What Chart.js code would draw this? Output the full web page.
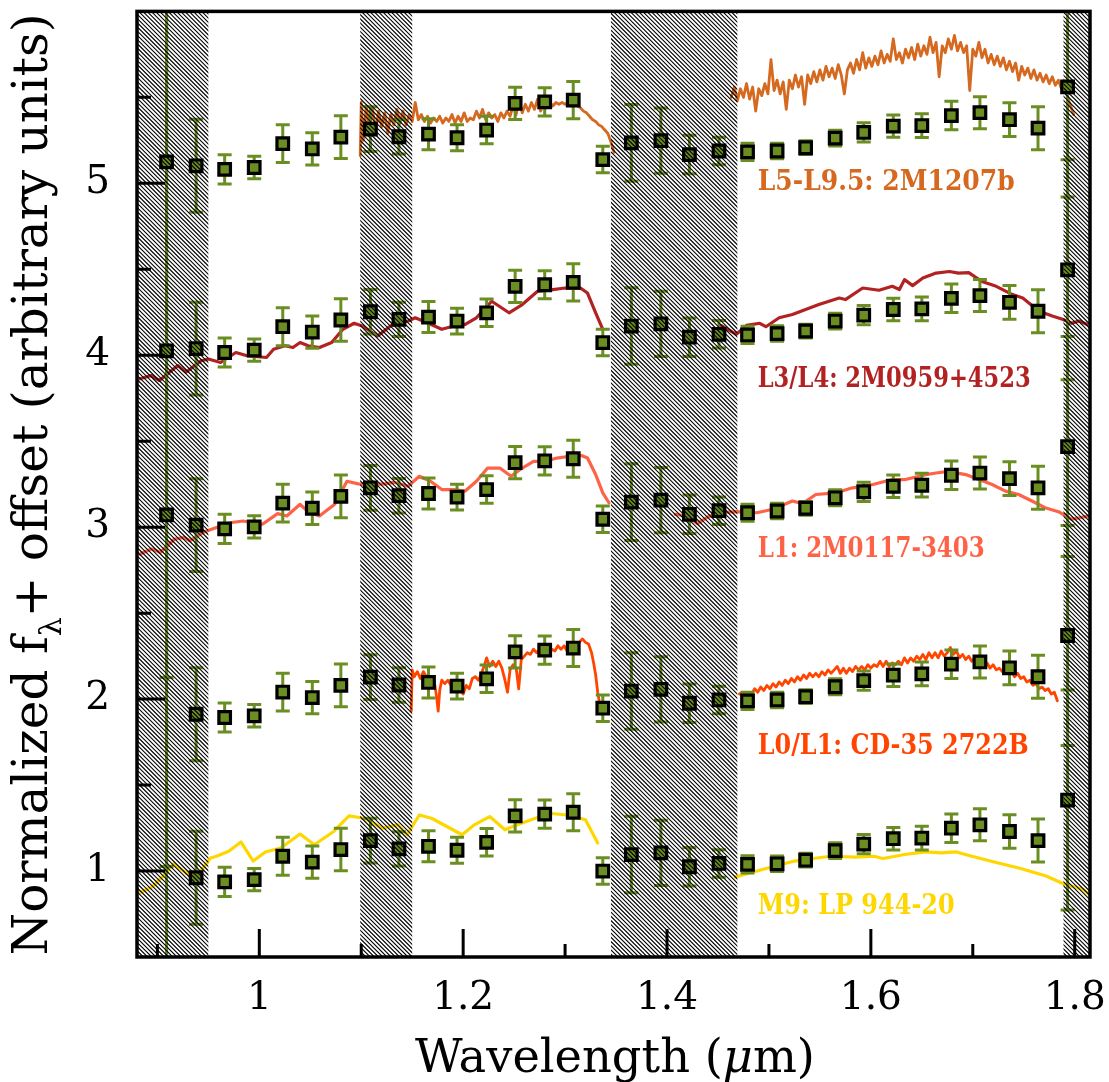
<!DOCTYPE html>
<html><head><meta charset="utf-8">
<script src="https://cdn.jsdelivr.net/npm/chart.js@4.4.1/dist/chart.umd.min.js"></script>
<style>html,body{margin:0;padding:0;background:#fff;}canvas{display:block;}</style>
</head><body>
<canvas id="c" width="1109" height="1082"></canvas>
<script>
// ---------------- DATA ----------------
const objectNames = ['L5-L9.5: 2M1207b', 'L3/L4: 2M0959+4523', 'L1: 2M0117-3403', 'L0/L1: CD-35 2722B', 'M9: LP 944-20'];

// photometric channels (micron)
const photWave = [0.909,0.938,0.966,0.995,1.023,1.052,1.080,1.109,1.137,1.166,1.194,1.223,1.251,1.280,1.308,1.337,1.365,1.394,1.422,1.451,1.479,1.508,1.536,1.565,1.593,1.622,1.650,1.679,1.707,1.736,1.764,1.793];
const photErr = [3.0,0.27,0.085,0.065,0.11,0.094,0.124,0.13,0.10,0.09,0.075,0.08,0.094,0.082,0.108,0.077,0.223,0.19,0.112,0.08,0.05,0.045,0.04,0.046,0.056,0.065,0.069,0.083,0.093,0.098,0.125,0.64];
const phot2M1207b = [5.125,5.102,5.081,5.092,5.231,5.200,5.269,5.315,5.271,5.286,5.265,5.310,5.465,5.474,5.484,5.138,5.235,5.248,5.167,5.188,5.183,5.188,5.207,5.263,5.296,5.333,5.336,5.394,5.411,5.370,5.321,5.561];
const phot2M0959 = [4.026,4.039,4.016,4.030,4.166,4.135,4.205,4.253,4.209,4.222,4.199,4.247,4.401,4.410,4.424,4.074,4.170,4.183,4.105,4.122,4.118,4.126,4.141,4.199,4.233,4.266,4.270,4.331,4.347,4.308,4.256,4.497];
const phot2M0117 = [3.071,3.012,2.990,3.002,3.140,3.110,3.179,3.229,3.183,3.196,3.175,3.219,3.375,3.386,3.398,3.046,3.146,3.157,3.075,3.096,3.084,3.094,3.110,3.171,3.206,3.238,3.244,3.302,3.315,3.282,3.229,3.469];
const photCD35 = [null,1.912,1.893,1.903,2.041,2.009,2.080,2.128,2.082,2.097,2.076,2.118,2.275,2.285,2.297,1.947,2.047,2.057,1.976,1.995,1.990,1.995,2.014,2.072,2.108,2.139,2.147,2.203,2.216,2.182,2.130,2.370];
const photLP944 = [null,0.961,0.937,0.950,1.086,1.052,1.125,1.177,1.129,1.144,1.121,1.167,1.321,1.331,1.342,1.000,1.096,1.106,1.025,1.044,1.039,1.042,1.063,1.119,1.157,1.188,1.192,1.249,1.269,1.230,1.177,1.413];

// spectra: 2M1207b (L5-L9.5)
const s1207_J_w = [1.099,1.100,1.102,1.105,1.108,1.111,1.114,1.117,1.120,1.123,1.126,1.129,1.132,1.135,1.138,1.141,1.144,1.147,1.150,1.153,1.156,1.159,1.162,1.165,1.168,1.171,1.174,1.177,1.180,1.183,1.186,1.189,1.192,1.195,1.198,1.201,1.204,1.207,1.210,1.213,1.216,1.219,1.222,1.225,1.228,1.231,1.234,1.237,1.240,1.243,1.246,1.249,1.252,1.255,1.258,1.261,1.264,1.267,1.270,1.273,1.276,1.279,1.282,1.285,1.288,1.291,1.294,1.297,1.300,1.303,1.306,1.309,1.312,1.315,1.318,1.321,1.324,1.327,1.330,1.333,1.336,1.339,1.342,1.345,1.348];
const s1207_J_f = [5.16,5.47,5.25,5.45,5.32,5.44,5.30,5.42,5.33,5.41,5.29,5.40,5.34,5.43,5.35,5.42,5.34,5.40,5.36,5.47,5.37,5.40,5.36,5.39,5.35,5.38,5.36,5.39,5.35,5.38,5.36,5.40,5.35,5.39,5.36,5.41,5.36,5.38,5.37,5.42,5.38,5.43,5.37,5.41,5.38,5.40,5.36,5.41,5.38,5.42,5.39,5.45,5.40,5.48,5.41,5.46,5.42,5.47,5.43,5.49,5.42,5.47,5.44,5.47,5.45,5.47,5.46,5.47,5.46,5.47,5.45,5.46,5.45,5.44,5.42,5.41,5.39,5.37,5.36,5.34,5.33,5.31,5.29,5.24,5.18];
const s1207_H_w = [1.463,1.466,1.469,1.472,1.475,1.478,1.481,1.484,1.487,1.490,1.493,1.496,1.499,1.502,1.505,1.508,1.511,1.514,1.517,1.520,1.523,1.526,1.529,1.532,1.535,1.538,1.541,1.544,1.547,1.550,1.553,1.556,1.559,1.562,1.565,1.568,1.571,1.574,1.577,1.580,1.583,1.586,1.589,1.592,1.595,1.598,1.601,1.604,1.607,1.610,1.613,1.616,1.619,1.622,1.625,1.628,1.631,1.634,1.637,1.640,1.643,1.646,1.649,1.652,1.655,1.658,1.661,1.664,1.667,1.670,1.673,1.676,1.679,1.682,1.685,1.688,1.691,1.694,1.697,1.700,1.703,1.706,1.709,1.712,1.715,1.718,1.721,1.724,1.727,1.730,1.733,1.736,1.739,1.742,1.745,1.748,1.751,1.754,1.757,1.760,1.763,1.766,1.769,1.772,1.775,1.778,1.781,1.784,1.787,1.790,1.793,1.796,1.799];
const s1207_H_f = [5.50,5.56,5.48,5.55,5.50,5.58,5.49,5.56,5.42,5.55,5.51,5.58,5.52,5.72,5.54,5.60,5.52,5.59,5.43,5.60,5.55,5.63,5.56,5.62,5.46,5.63,5.58,5.65,5.59,5.66,5.60,5.68,5.62,5.67,5.61,5.69,5.63,5.52,5.66,5.70,5.64,5.72,5.66,5.76,5.67,5.73,5.68,5.74,5.69,5.77,5.70,5.75,5.71,5.84,5.72,5.76,5.70,5.78,5.73,5.79,5.72,5.81,5.74,5.80,5.75,5.85,5.76,5.82,5.62,5.80,5.76,5.84,5.78,5.86,5.77,5.82,5.76,5.80,5.54,5.78,5.74,5.82,5.73,5.78,5.70,5.75,5.69,5.74,5.68,5.73,5.66,5.71,5.65,5.70,5.60,5.68,5.63,5.67,5.61,5.66,5.60,5.64,5.59,5.63,5.58,5.62,5.57,5.60,5.55,5.58,5.50,5.45,5.40];

// spectra: 2M0959+4523 (L3/L4)
const s0959_J_w = [0.883,0.894,0.902,0.920,0.928,0.943,0.950,0.962,0.977,0.988,1.007,1.014,1.025,1.033,1.040,1.048,1.059,1.071,1.082,1.093,1.101,1.116,1.131,1.146,1.153,1.168,1.179,1.191,1.202,1.213,1.228,1.245,1.258,1.273,1.288,1.300,1.315,1.322,1.330,1.337];
const s0959_J_f = [3.863,3.882,3.853,3.940,3.901,3.968,3.978,3.958,4.016,3.997,3.987,4.035,4.055,4.045,4.074,4.055,4.045,4.074,4.151,4.186,4.170,4.112,4.180,4.199,4.218,4.180,4.151,4.170,4.180,4.218,4.314,4.247,4.295,4.372,4.382,4.391,4.391,4.362,4.247,4.151];
const s0959_H_w = [1.453,1.468,1.478,1.491,1.497,1.510,1.523,1.536,1.549,1.569,1.575,1.592,1.608,1.621,1.628,1.633,1.641,1.651,1.664,1.677,1.686,1.696,1.709,1.723,1.739,1.749,1.765,1.778,1.788,1.797,1.804,1.812];
const s0959_H_f = [4.174,4.122,4.174,4.186,4.166,4.218,4.237,4.266,4.295,4.333,4.324,4.391,4.378,4.401,4.382,4.440,4.405,4.449,4.478,4.487,4.478,4.481,4.429,4.401,4.353,4.333,4.256,4.228,4.209,4.186,4.199,4.180];

// spectra: 2M0117-3403 (L1)
const s0117_J_w = [0.883,0.894,0.903,0.917,0.926,0.932,0.945,0.958,0.973,0.984,1.003,1.018,1.027,1.040,1.048,1.059,1.074,1.086,1.097,1.108,1.123,1.132,1.146,1.157,1.168,1.179,1.191,1.202,1.213,1.224,1.236,1.247,1.258,1.269,1.281,1.292,1.303,1.316,1.322,1.330,1.337,1.343];
const s0117_J_f = [2.844,2.873,2.854,2.931,2.940,2.921,2.970,2.998,3.027,3.036,3.017,3.079,3.065,3.133,3.090,3.065,3.133,3.267,3.252,3.248,3.252,3.261,3.238,3.296,3.267,3.219,3.219,3.210,3.267,3.344,3.344,3.296,3.344,3.383,3.383,3.402,3.411,3.417,3.402,3.306,3.200,3.142];
const s0117_H_w = [1.408,1.419,1.430,1.439,1.450,1.468,1.488,1.504,1.523,1.533,1.546,1.566,1.582,1.602,1.621,1.634,1.654,1.664,1.676,1.693,1.706,1.719,1.732,1.745,1.758,1.771,1.784,1.797,1.814];
const s0117_H_f = [3.075,3.065,3.021,3.056,3.084,3.090,3.084,3.104,3.152,3.137,3.190,3.200,3.229,3.248,3.277,3.277,3.306,3.315,3.325,3.306,3.277,3.248,3.210,3.190,3.152,3.113,3.090,3.046,3.065];

// spectra: CD-35 2722B (L0/L1)
const sCD35_J_w = [1.149,1.150,1.152,1.155,1.158,1.161,1.164,1.167,1.170,1.172,1.174,1.1755,1.177,1.179,1.182,1.185,1.188,1.191,1.194,1.197,1.200,1.203,1.206,1.209,1.212,1.215,1.218,1.221,1.223,1.226,1.229,1.232,1.235,1.238,1.241,1.2435,1.246,1.249,1.252,1.2545,1.257,1.260,1.263,1.266,1.269,1.272,1.275,1.278,1.281,1.284,1.287,1.290,1.293,1.296,1.299,1.302,1.305,1.308,1.311,1.314,1.317,1.320,1.323,1.326,1.328,1.330,1.332,1.334,1.335];
const sCD35_J_f = [1.93,2.17,2.13,2.16,2.12,2.16,2.13,2.11,2.13,2.09,2.01,1.93,2.05,2.11,2.09,2.11,2.08,2.11,2.09,2.06,2.03,2.08,2.06,2.12,2.13,2.11,2.15,2.20,2.24,2.19,2.22,2.19,2.22,2.18,2.11,2.04,2.17,2.20,2.18,2.06,2.23,2.25,2.27,2.26,2.29,2.27,2.29,2.27,2.28,2.26,2.29,2.28,2.31,2.29,2.31,2.28,2.30,2.32,2.30,2.33,2.35,2.33,2.32,2.27,2.21,2.14,2.04,1.97,1.95];
const sCD35_H_w = [1.471,1.474,1.477,1.480,1.483,1.486,1.489,1.492,1.495,1.498,1.501,1.504,1.507,1.510,1.513,1.516,1.519,1.522,1.525,1.528,1.531,1.534,1.537,1.540,1.543,1.546,1.549,1.552,1.555,1.558,1.561,1.564,1.567,1.570,1.573,1.576,1.579,1.582,1.585,1.588,1.591,1.594,1.597,1.600,1.603,1.606,1.609,1.612,1.615,1.618,1.621,1.624,1.627,1.630,1.633,1.636,1.639,1.642,1.645,1.648,1.651,1.654,1.657,1.660,1.663,1.666,1.669,1.672,1.675,1.678,1.681,1.684,1.687,1.690,1.693,1.696,1.699,1.702,1.705,1.708,1.711,1.714,1.717,1.720,1.723,1.726,1.729,1.732,1.735,1.738,1.741,1.744,1.747,1.750,1.753,1.756,1.759,1.762,1.765,1.768,1.771,1.774,1.777,1.780,1.783];
const sCD35_H_f = [2.03,2.04,2.02,2.04,2.03,2.06,2.04,2.07,2.05,2.08,2.06,2.09,2.07,2.10,2.08,2.11,2.09,2.12,2.10,2.13,2.11,2.14,2.12,2.15,2.13,2.15,2.13,2.16,2.14,2.17,2.15,2.17,2.19,2.15,2.18,2.15,2.18,2.16,2.19,2.17,2.19,2.17,2.20,2.18,2.20,2.19,2.22,2.19,2.22,2.19,2.21,2.20,2.22,2.20,2.24,2.21,2.24,2.22,2.25,2.23,2.26,2.23,2.27,2.24,2.27,2.24,2.28,2.25,2.27,2.30,2.26,2.28,2.24,2.26,2.23,2.25,2.22,2.24,2.21,2.22,2.19,2.21,2.18,2.20,2.17,2.18,2.16,2.17,2.15,2.16,2.13,2.15,2.12,2.13,2.10,2.11,2.08,2.09,2.06,2.07,2.05,2.06,2.03,2.04,1.99];

// spectra: LP 944-20 (M9)
const sLP944_J_w = [0.883,0.895,0.904,0.916,0.928,0.938,0.952,0.958,0.970,0.982,0.994,1.006,1.021,1.040,1.054,1.073,1.088,1.103,1.121,1.136,1.145,1.157,1.169,1.184,1.199,1.211,1.226,1.241,1.253,1.271,1.284,1.302,1.320,1.332];
const sLP944_J_f = [0.875,0.908,0.961,1.042,0.990,0.961,1.076,1.086,1.115,1.169,1.058,1.111,1.134,1.215,1.153,1.230,1.321,1.307,1.249,1.269,1.211,1.326,1.307,1.259,1.211,1.269,1.317,1.240,1.269,1.307,1.336,1.326,1.298,1.163];
const sLP944_H_w = [1.467,1.482,1.500,1.525,1.543,1.561,1.585,1.603,1.612,1.633,1.654,1.669,1.684,1.699,1.724,1.747,1.772,1.790,1.808,1.815];
const sLP944_H_f = [0.965,0.990,1.019,1.058,1.073,1.086,1.081,1.086,1.073,1.096,1.111,1.106,1.111,1.086,1.048,1.015,0.971,0.923,0.894,0.860];

// axis ticks
const xTickValues = [1, 1.2, 1.4, 1.6, 1.8];
const xTickLabels = ['1', '1.2', '1.4', '1.6', '1.8'];
const xMinorTicks = [0.9, 1.1, 1.3, 1.5, 1.7];
const yTickValues = [1, 2, 3, 4, 5];
const yTickLabels = ['1', '2', '3', '4', '5'];
const yMinorTicks = [1.5, 2.5, 3.5, 4.5, 5.5];

// masked (telluric) wavelength ranges
const maskStart = [0.880, 1.099, 1.345, 1.789];
const maskEnd   = [0.950, 1.150, 1.469, 1.815];

// ---------------- STYLE ----------------
const specColors = ['#d4691f', '#b22222', '#ff6347', '#ff4500', '#ffd700'];
const olive = '#6b8e23';
const labelAnchors = [ // label anchor (data coords) and target text width (px)
  {x: 1.489, y: 4.962, w: 257},
  {x: 1.489, y: 3.817, w: 273},
  {x: 1.489, y: 2.827, w: 227},
  {x: 1.489, y: 1.683, w: 271},
  {x: 1.489, y: 0.752, w: 197}
];
const AXFONT = "'DejaVu Serif', 'Liberation Serif', serif";

const photSets = [phot2M1207b, phot2M0959, phot2M0117, photCD35, photLP944];
const specSegs = [
  [[s1207_J_w, s1207_J_f], [s1207_H_w, s1207_H_f]],
  [[s0959_J_w, s0959_J_f], [s0959_H_w, s0959_H_f]],
  [[s0117_J_w, s0117_J_f], [s0117_H_w, s0117_H_f]],
  [[sCD35_J_w, sCD35_J_f], [sCD35_H_w, sCD35_H_f]],
  [[sLP944_J_w, sLP944_J_f], [sLP944_H_w, sLP944_H_f]]
];
const specWidths = [2.8, 3.2, 3.2, 2.8, 3.2];

const datasets = [];
photSets.forEach((arr, k) => {
  datasets.push({
    label: objectNames[k] + ' phot', isPhot: true, order: 0, showLine: false,
    data: photWave.map((x, i) => arr[i] == null ? null : {x: x, y: arr[i]}).filter(Boolean),
    pointStyle: 'rect', pointRadius: 8.2, pointHoverRadius: 8.2,
    pointBackgroundColor: olive, pointBorderColor: '#000', pointBorderWidth: 3.2
  });
});
specSegs.forEach((segs, k) => {
  segs.forEach(([w, f]) => {
    datasets.push({
      label: objectNames[k], order: 1, showLine: true, pointRadius: 0,
      data: w.map((x, i) => ({x: x, y: f[i]})),
      borderColor: specColors[k], borderWidth: specWidths[k], tension: 0,
      borderJoinStyle: 'round', borderCapStyle: 'round'
    });
  });
});

function drawErrorBars(chart) {
  const ctx = chart.ctx, xs = chart.scales.x, ys = chart.scales.y, a = chart.chartArea;
  ctx.save();
  ctx.beginPath(); ctx.rect(a.left, a.top, a.right - a.left, a.bottom - a.top); ctx.clip();
  ctx.strokeStyle = olive; ctx.lineWidth = 3;
  photSets.forEach(arr => {
    arr.forEach((v, i) => {
      if (v == null) return;
      const x = xs.getPixelForValue(photWave[i]);
      const y1 = ys.getPixelForValue(v - photErr[i]);
      const y2 = ys.getPixelForValue(v + photErr[i]);
      ctx.beginPath();
      ctx.moveTo(x, y1); ctx.lineTo(x, y2);
      ctx.moveTo(x - 7, y1); ctx.lineTo(x + 7, y1);
      ctx.moveTo(x - 7, y2); ctx.lineTo(x + 7, y2);
      ctx.stroke();
    });
  });
  ctx.restore();
}

function drawHatch(chart) {
  const ctx = chart.ctx, xs = chart.scales.x, a = chart.chartArea;
  const h = a.bottom - a.top;
  ctx.save();
  maskStart.forEach((s, i) => {
    const x1 = xs.getPixelForValue(s), x2 = xs.getPixelForValue(maskEnd[i]);
    ctx.save();
    ctx.beginPath(); ctx.rect(x1, a.top, x2 - x1, h); ctx.clip();
    ctx.strokeStyle = '#000'; ctx.lineWidth = 1.1;
    ctx.beginPath();
    const step = 4.2;
    const k0 = Math.floor((x1 - h) / step) * step;
    for (let k = k0; k <= x2; k += step) {
      ctx.moveTo(k, a.top); ctx.lineTo(k + h, a.top + h);
    }
    ctx.stroke();
    ctx.restore();
  });
  ctx.restore();
}

function drawLabels(chart) {
  const ctx = chart.ctx, xs = chart.scales.x, ys = chart.scales.y;
  ctx.save();
  objectNames.forEach((t, k) => {
    const L = labelAnchors[k];
    const x = xs.getPixelForValue(L.x), y = ys.getPixelForValue(L.y);
    ctx.font = "bold 27px " + AXFONT;
    const w = ctx.measureText(t).width;
    ctx.save();
    ctx.translate(x, y);
    ctx.scale(L.w / w, 1);
    ctx.fillStyle = specColors[k];
    ctx.textBaseline = 'alphabetic'; ctx.textAlign = 'left';
    ctx.fillText(t, 0, 0);
    ctx.restore();
  });
  ctx.restore();
}

function drawFrame(chart) {
  const ctx = chart.ctx, xs = chart.scales.x, ys = chart.scales.y, a = chart.chartArea;
  ctx.save();
  ctx.strokeStyle = '#000'; ctx.lineWidth = 3; ctx.lineCap = 'butt';
  ctx.beginPath();
  xTickValues.forEach(v => { const x = xs.getPixelForValue(v); ctx.moveTo(x, a.bottom); ctx.lineTo(x, a.bottom - 28); });
  xMinorTicks.forEach(v => { const x = xs.getPixelForValue(v); ctx.moveTo(x, a.bottom); ctx.lineTo(x, a.bottom - 13); });
  yTickValues.forEach(v => { const y = ys.getPixelForValue(v); ctx.moveTo(a.left, y); ctx.lineTo(a.left + 28, y); });
  yMinorTicks.forEach(v => { const y = ys.getPixelForValue(v); ctx.moveTo(a.left, y); ctx.lineTo(a.left + 14, y); });
  ctx.stroke();
  ctx.lineWidth = 3.5;
  ctx.strokeRect(a.left, a.top, a.right - a.left, a.bottom - a.top);
  ctx.restore();
}

function drawTitles(chart) {
  const ctx = chart.ctx, a = chart.chartArea;
  ctx.save();
  ctx.fillStyle = '#000'; ctx.textBaseline = 'alphabetic'; ctx.textAlign = 'left';
  // x title: Wavelength (μm) with italic mu
  const xp = ['Wavelength (', 'μ', 'm)'];
  const xf = [F => F + 'px ' + AXFONT, F => 'italic ' + F + 'px ' + AXFONT, F => F + 'px ' + AXFONT];
  let F = 40, tw = 0;
  xp.forEach((p, i) => { ctx.font = xf[i](F); tw += ctx.measureText(p).width; });
  F = F * 400 / tw;
  let widths = xp.map((p, i) => { ctx.font = xf[i](F); return ctx.measureText(p).width; });
  let cx = 615 - 400 / 2;
  xp.forEach((p, i) => { ctx.font = xf[i](F); ctx.fillText(p, cx, 1072); cx += widths[i]; });
  // y title
  const parts = ['Normalized f', 'λ', '+ offset (arbitrary units)'];
  const scale = [1, 0.62, 1], drop = [0, 0.28, 0];
  let G = 40; tw = 0;
  parts.forEach((p, i) => { ctx.font = (G * scale[i]) + 'px ' + AXFONT; tw += ctx.measureText(p).width; });
  G = G * 942 / tw;
  ctx.translate(47, (a.top + a.bottom) / 2);
  ctx.rotate(-Math.PI / 2);
  let px = -942 / 2;
  parts.forEach((p, i) => {
    ctx.font = (G * scale[i]) + 'px ' + AXFONT;
    ctx.fillText(p, px, drop[i] * G);
    px += ctx.measureText(p).width;
  });
  ctx.restore();
}

const customPlugin = {
  id: 'custom',
  beforeDraw(chart) { chart.$errDone = false; },
  beforeDatasetDraw(chart, args) {
    const ds = chart.data.datasets[args.index];
    if (ds.isPhot && !chart.$errDone) { chart.$errDone = true; drawErrorBars(chart); }
  },
  afterDatasetsDraw(chart) { drawHatch(chart); drawLabels(chart); },
  afterDraw(chart) { drawFrame(chart); drawTitles(chart); }
};

new Chart(document.getElementById('c'), {
  type: 'scatter',
  data: { datasets: datasets },
  options: {
    responsive: false, animation: false, devicePixelRatio: 1,
    layout: { padding: { left: 0, right: 19, top: 3, bottom: 0 } },
    plugins: { legend: { display: false }, tooltip: { enabled: false } },
    scales: {
      x: {
        type: 'linear', min: 0.880, max: 1.815,
        grid: { display: false, drawTicks: false }, border: { display: false },
        afterBuildTicks: s => { s.ticks = xTickValues.map(v => ({value: v})); },
        afterFit: s => { s.height = 125; s.paddingLeft = 0; s.paddingRight = 0; s.paddingTop = 0; s.paddingBottom = 0; },
        ticks: {
          autoSkip: false, maxRotation: 0, padding: 18, color: '#000',
          font: { family: AXFONT, size: 39 },
          callback: v => { const i = xTickValues.findIndex(t => Math.abs(t - v) < 1e-9); return i < 0 ? '' : xTickLabels[i]; }
        }
      },
      y: {
        type: 'linear', min: 0.5, max: 6.0,
        grid: { display: false, drawTicks: false }, border: { display: false },
        afterBuildTicks: s => { s.ticks = yTickValues.map(v => ({value: v})); },
        afterFit: s => { s.width = 137; s.paddingLeft = 0; s.paddingRight = 0; s.paddingTop = 0; s.paddingBottom = 0; },
        ticks: {
          autoSkip: false, padding: 27, color: '#000',
          font: { family: AXFONT, size: 39 },
          callback: v => { const i = yTickValues.findIndex(t => Math.abs(t - v) < 1e-9); return i < 0 ? '' : yTickLabels[i]; }
        }
      }
    }
  },
  plugins: [customPlugin]
});
</script>
</body></html>
